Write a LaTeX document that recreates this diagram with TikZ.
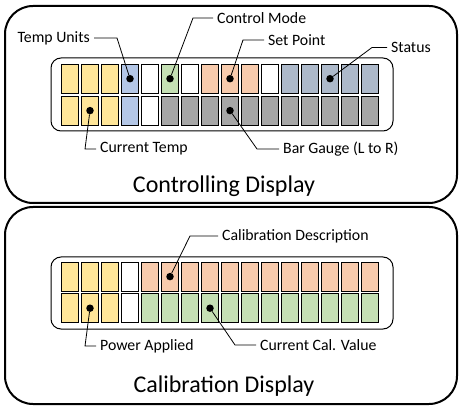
\documentclass[tikz,border=0pt]{standalone}
\usepackage{fontspec}
\setmainfont{Carlito}
\usepackage{tikz}
\definecolor{yel}{RGB}{255,230,153}
\definecolor{blu}{RGB}{180,199,231}
\definecolor{grn}{RGB}{197,224,180}
\definecolor{pch}{RGB}{248,203,173}
\definecolor{gry}{RGB}{166,166,166}
\definecolor{slt}{RGB}{173,185,202}

\begin{document}
\begin{tikzpicture}[x=1pt,y=-1pt,
  cell/.style={draw=black,line width=0.8pt},
  dot/.style={circle,fill=black,inner sep=0pt,minimum size=7.5pt},
  lbl/.style={font=\fontsize{15.8}{18}\selectfont,inner xsep=4pt,inner ysep=1pt},
  ttl/.style={font=\fontsize{24}{28}\selectfont}]
\useasboundingbox (0,0) rectangle (465,411);

% outer frames
\draw[line width=2pt,rounded corners=28pt] (5,6) rectangle (457,203);
\draw[line width=2pt,rounded corners=28pt] (5,207) rectangle (457,404);
\draw[line width=1pt,rounded corners=10pt] (51,58) rectangle (393,131);
\draw[line width=1pt,rounded corners=10pt] (51,257) rectangle (393,329);

% controlling display cells
\foreach \c [count=\i from 0] in {yel,yel,yel,blu,white,grn,white,pch,pch,pch,white,slt,slt,slt,slt,slt}
  \draw[cell,fill=\c] (61.5+20*\i,64) rectangle ++(17,29.3);
\foreach \c [count=\i from 0] in {yel,yel,yel,blu,white,gry,gry,gry,gry,gry,gry,gry,gry,gry,gry,gry}
  \draw[cell,fill=\c] (61.5+20*\i,96) rectangle ++(17,29.3);

% calibration display cells
\foreach \c [count=\i from 0] in {yel,yel,yel,white,pch,pch,pch,pch,pch,pch,pch,pch,pch,pch,pch,pch}
  \draw[cell,fill=\c] (61.5+20*\i,262.3) rectangle ++(17,28.6);
\foreach \c [count=\i from 0] in {yel,yel,yel,white,grn,grn,grn,grn,grn,grn,grn,grn,grn,grn,grn,grn}
  \draw[cell,fill=\c] (61.5+20*\i,293.5) rectangle ++(17,29.3);

% markers
\node[dot] (dtu) at (130,78.7) {};
\node[dot] (dcm) at (170,78.7) {};
\node[dot] (dsp) at (230,78.7) {};
\node[dot] (dst) at (330,78.7) {};
\node[dot] (dct) at (90,110.6) {};
\node[dot] (dbg) at (230,110.6) {};
\node[dot] (dcd) at (170,276.6) {};
\node[dot] (dpa) at (90,308.2) {};
\node[dot] (dcv) at (210,308.2) {};

% labels
\node[lbl,anchor=east] (tu) at (94,38) {Temp Units};
\node[lbl,anchor=west] (cm) at (213,18) {Control Mode};
\node[lbl,anchor=west] (sp) at (264,40) {Set Point};
\node[lbl,anchor=west] (st) at (387,47.5) {Status};
\node[lbl,anchor=west] (ct) at (96,149) {Current Temp};
\node[lbl,anchor=west] (bg) at (279,149) {Bar Gauge (L to R)};
\node[lbl,anchor=west] (cd) at (218,236) {Calibration Description};
\node[lbl,anchor=west] (pa) at (96,346) {Power Applied};
\node[lbl,anchor=west] (cv) at (256,345) {Current Cal. Value};

\coordinate (ktu) at (117,38);
\coordinate (kcm) at (193,18);
\coordinate (ksp) at (243,40);
\coordinate (kst) at (372,47.5);
\coordinate (kct) at (85,149);
\coordinate (kbg) at (257,149);
\coordinate (kcd) at (190,236);
\coordinate (kpa) at (85,346);
\coordinate (kcv) at (235,345);

\begin{scope}[line width=0.8pt]
\draw (dtu) -- (ktu) -- (tu.east);
\draw (dcm) -- (kcm) -- (cm.west);
\draw (dsp) -- (ksp) -- (sp.west);
\draw (dst) -- (kst) -- (st.west);
\draw (dct) -- (kct) -- (ct.west);
\draw (dbg) -- (kbg) -- (bg.west);
\draw (dcd) -- (kcd) -- (cd.west);
\draw (dpa) -- (kpa) -- (pa.west);
\draw (dcv) -- (kcv) -- (cv.west);
\end{scope}

% titles
\node[ttl,anchor=base] (t1) at (224,193) {Controlling Display};
\node[ttl,anchor=base] (t2) at (224,392) {Calibration Display};
\end{tikzpicture}
\end{document}
